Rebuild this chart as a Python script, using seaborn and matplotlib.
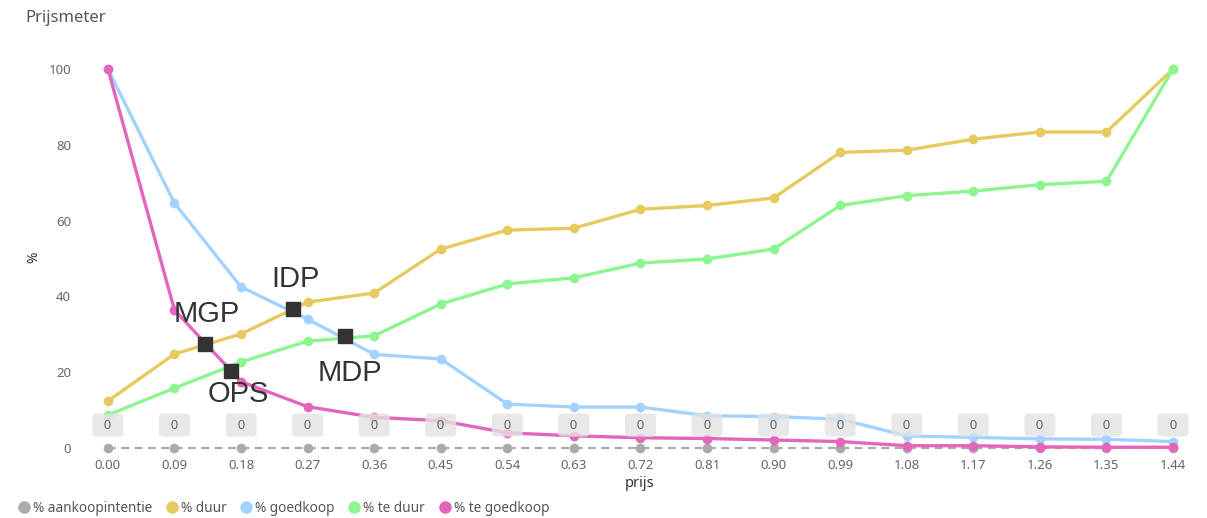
import numpy as np
import matplotlib.pyplot as plt
import pandas as pd
import seaborn as sb
from matplotlib.lines import Line2D

# prijzen (categorieen op de x-as)
prijs = [0.00, 0.09, 0.18, 0.27, 0.36, 0.45, 0.54, 0.63, 0.72,
         0.81, 0.90, 0.99, 1.08, 1.17, 1.26, 1.35, 1.44]

aankoopintentie = [0] * 17
duur = [12.4, 24.8, 30.1, 38.5, 40.9, 52.5, 57.5, 58.0, 63.0,
        64.0, 66.0, 78.0, 78.6, 81.5, 83.4, 83.4, 100]
goedkoop = [100, 64.6, 42.5, 34.0, 24.7, 23.5, 11.6, 10.8, 10.8,
            8.5, 8.3, 7.6, 3.2, 2.8, 2.4, 2.3, 1.7]
te_duur = [8.7, 15.8, 22.7, 28.2, 29.6, 38.0, 43.3, 44.9, 48.8,
           49.9, 52.5, 64.0, 66.6, 67.8, 69.5, 70.4, 100]
te_goedkoop = [100, 36.4, 17.5, 10.9, 8.1, 7.2, 4.0, 3.2, 2.7,
               2.5, 2.1, 1.7, 0.6, 0.6, 0.3, 0.2, 0.2]

# snijpunten (prijspunten)
punt_namen = ["MGP", "OPS", "IDP", "MDP"]
punt_prijs = [0.131, 0.166, 0.250, 0.320]
punt_pct = [27.4, 20.4, 36.7, 29.5]

series = {"% aankoopintentie": aankoopintentie, "% duur": duur, "% goedkoop": goedkoop,
          "% te duur": te_duur, "% te goedkoop": te_goedkoop}
colors = {"% aankoopintentie": "#ABABAB", "% duur": "#E6CA60", "% goedkoop": "#A2D2FF",
          "% te duur": "#8DF58F", "% te goedkoop": "#E466BA"}

rows = []
for name, vals in series.items():
    for p, v in zip(prijs, vals):
        rows.append({"prijs": p, "waarde": v, "reeks": name})
df = pd.DataFrame(rows)

sb.set_style("white")
plt.rcParams["font.family"] = ["Noto Sans", "DejaVu Sans"]

fig = plt.figure(figsize=(12.07, 5.18), dpi=100)
ax = fig.add_axes([85 / 1207, 1 - 455 / 518, 1110 / 1207, 395 / 518])

dashes = {k: "" for k in series}
dashes["% aankoopintentie"] = (3.5, 2.5)
sb.lineplot(data=df, x="prijs", y="waarde", hue="reeks", style="reeks",
            palette=colors, dashes=dashes, markers={k: "o" for k in series},
            markersize=7, markeredgewidth=0, linewidth=2.4, legend=False, ax=ax)
for line in ax.lines:
    if line.get_linestyle() != "-":
        line.set_linewidth(1.6)

# grijze labels "0"
for p, v in zip(prijs, aankoopintentie):
    ax.annotate("  %d  " % v, (p, v), xytext=(0, 16.5), textcoords="offset points",
                ha="center", va="center", fontsize=9.5, color="#666666",
                bbox=dict(boxstyle="round,pad=0.38,rounding_size=0.3", fc="#E3E3E3",
                          ec="none", alpha=0.8), zorder=5)

# prijspunten
ax.scatter(punt_prijs, punt_pct, marker="s", s=100, color="#333333", zorder=6)
offsets = {"MGP": (1.5, 21.6), "OPS": (5.8, -16.5), "IDP": (1.7, 21.6), "MDP": (4, -26.3)}
for n, p, v in zip(punt_namen, punt_prijs, punt_pct):
    ax.annotate(n, (p, v), xytext=offsets[n], textcoords="offset points",
                ha="center", va="center", fontsize=21, color="#333333",
                family="Liberation Sans", zorder=7)

ax.set_xlim(-0.031, 1.4697)
ax.set_ylim(-1.85, 102.4)
ax.set_xticks(prijs)
ax.set_xticklabels(["%.2f" % p for p in prijs])
ax.set_yticks([0, 20, 40, 60, 80, 100])
ax.tick_params(axis="x", length=0, pad=3, labelsize=9.5, labelcolor="#666666")
ax.tick_params(axis="y", length=0, pad=10, labelsize=9.5, labelcolor="#666666")
ax.set_xlabel("prijs", fontsize=10.5, color="#333333", fontweight="semibold", labelpad=3)
ax.set_ylabel("%", fontsize=10, color="#333333", fontweight="bold", labelpad=5)
sb.despine(ax=ax, left=True, bottom=True)

fig.text(25 / 1207, 1 - 18 / 518, "Prijsmeter", fontsize=12, color="#555555",
         va="center", ha="left")

handles = [Line2D([], [], marker="o", linestyle="none", markersize=9,
                  markerfacecolor=colors[k], markeredgewidth=0) for k in series]
fig.legend(handles, list(series.keys()), loc="center left",
           bbox_to_anchor=(3 / 1207, 1 - 508 / 518), ncol=5, frameon=False,
           fontsize=9.8, handletextpad=0.0, columnspacing=0.8, handlelength=1.3,
           labelcolor="#555555")

fig.savefig("out.png", dpi=100)
